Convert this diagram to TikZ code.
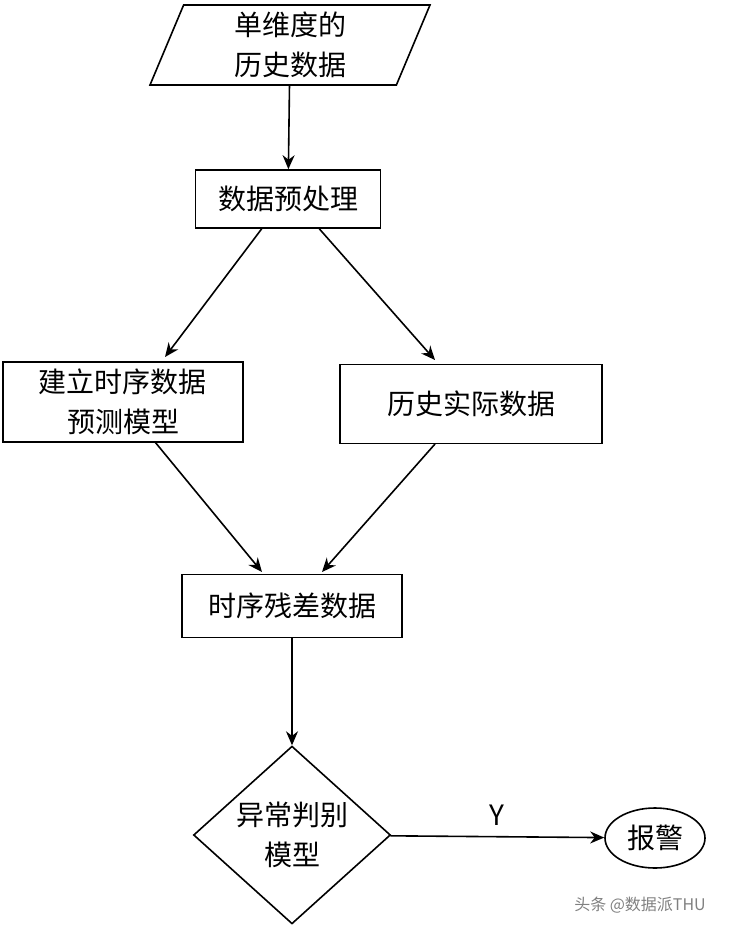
\documentclass[tikz,border=0pt]{standalone}
\usepackage{fontspec}
\setmainfont{Noto Sans CJK SC}
\usetikzlibrary{shapes.geometric,arrows.meta}
\begin{document}
\begin{tikzpicture}[x=0.5pt,y=-0.5pt,
  box/.style={draw,line width=0.8pt,inner sep=0pt,align=center,font=\fontsize{14pt}{20pt}\selectfont},
  flow/.style={draw,line width=0.8pt,-{Stealth[length=7pt,width=6pt]}}]
  \useasboundingbox (0,0) rectangle (734,926);
  \node [box,trapezium,trapezium left angle=63,trapezium right angle=117,trapezium stretches body,
         minimum width=140pt,minimum height=40pt] (input) at (290,45) {单维度的\\历史数据};
  \node [box,minimum width=92.5pt,minimum height=29pt] (prep) at (288,199) {数据预处理};
  \node [box,minimum width=120pt,minimum height=40pt] (model) at (123,402) {建立时序数据\\预测模型};
  \node [box,minimum width=131pt,minimum height=39.5pt] (actual) at (471,404) {历史实际数据};
  \node [box,minimum width=110pt,minimum height=31.5pt] (resid) at (292,606) {时序残差数据};
  \node [box,diamond,minimum width=98.5pt,minimum height=83pt] (judge) at (292,835) {异常判别\\模型};
  \node [box,ellipse,minimum width=50pt,minimum height=30pt] (alarm) at (655,838) {报警};
  \node [font=\fontsize{8pt}{10pt}\selectfont,text=gray] (mark) at (640,905) {头条 @数据派THU};
  \draw [flow] (input) -- (prep);
  \draw [flow] (prep.south west) ++(67,0) coordinate (p1) -- (165,357);
  \draw [flow] (prep.south east) ++(-62,0) coordinate (p2) -- (435,360);
  \draw [flow] (155,442) -- (262,572);
  \draw [flow] (435,444) -- (322,572);
  \draw [flow] (resid) -- (judge);
  \draw [flow] (judge) -- node [above=2pt,font=\fontsize{14pt}{16pt}\selectfont] {Y} (alarm);
\end{tikzpicture}
\end{document}
